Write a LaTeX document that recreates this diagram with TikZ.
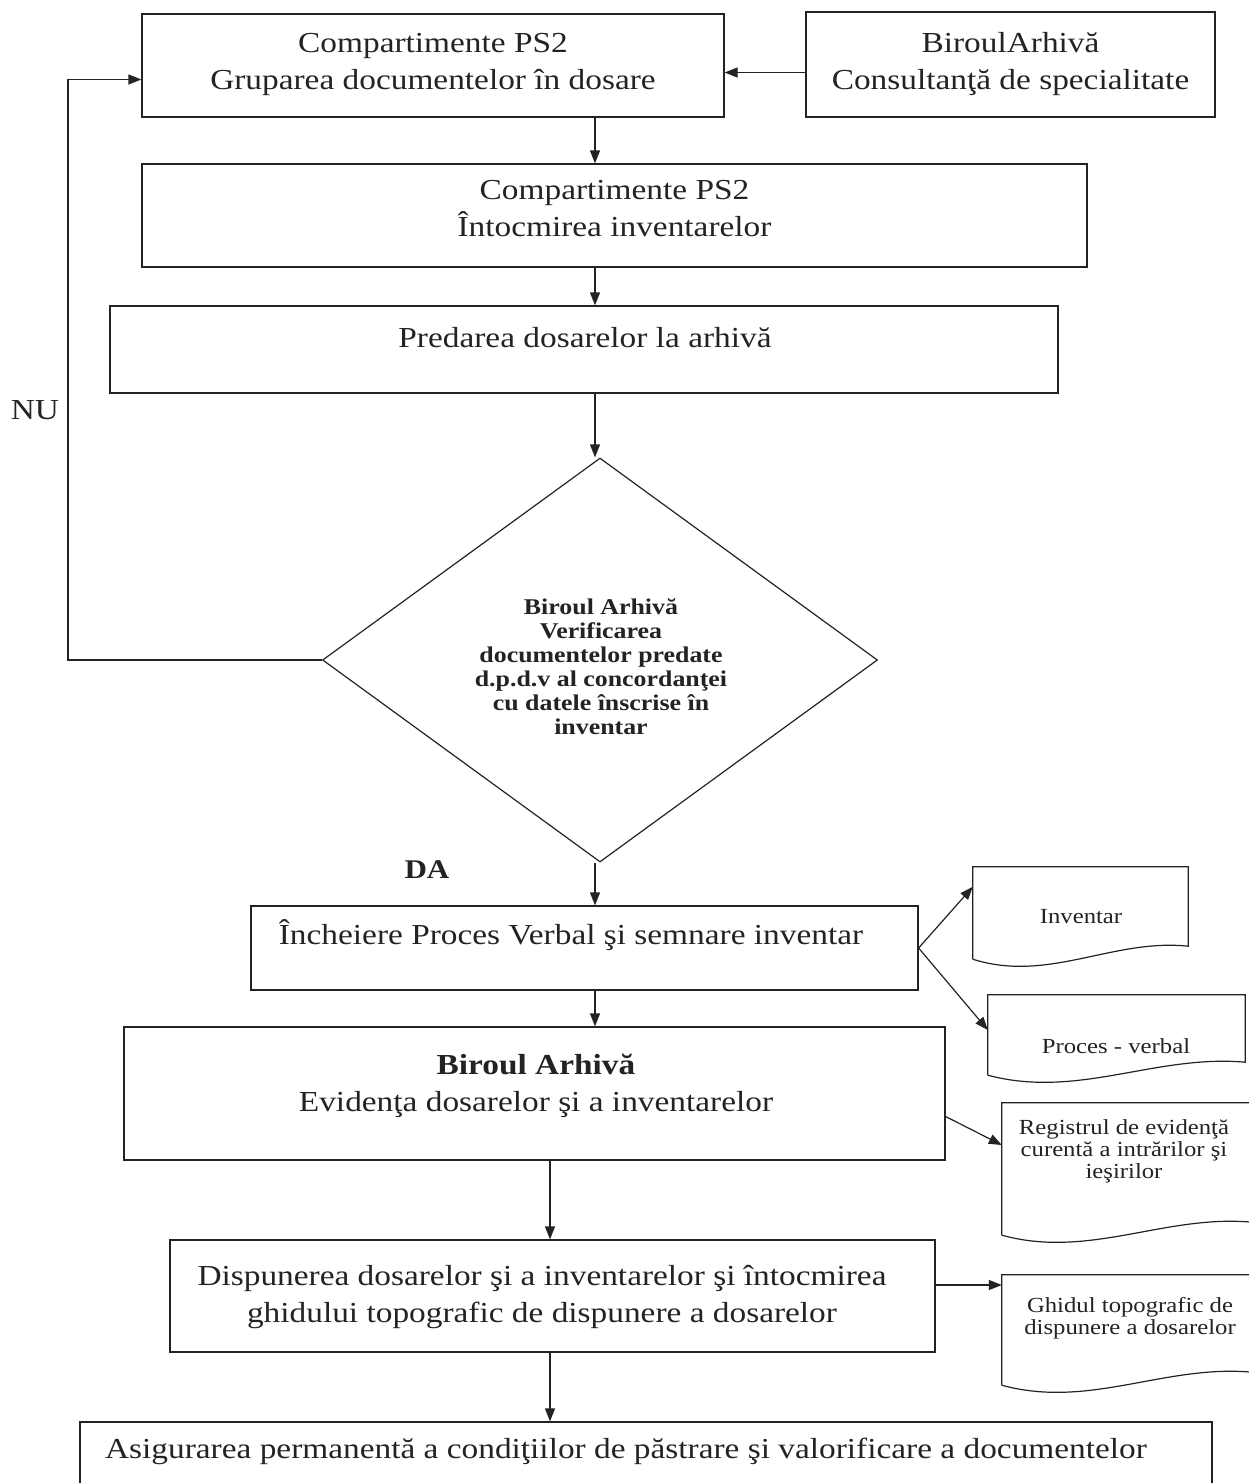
\documentclass[tikz,border=0pt]{standalone}
\usepackage{fontspec}
\setmainfont[FakeStretch=1.15]{Liberation Serif}
\usetikzlibrary{arrows.meta,calc,shapes.geometric}
\definecolor{ink}{RGB}{35,35,35}
\newcommand\mydoc[1]{%
  \draw[boxline] (#1.south west) -- (#1.north west) -- (#1.north east) -- ($(#1.south east)+(0,-13)$)
    .. controls ($(#1.south east)!0.35!(#1.south west)+(0,-21)$) and ($(#1.south east)!0.65!(#1.south west)+(0,24)$) .. (#1.south west);}
\begin{document}
\begin{tikzpicture}[x=1pt,y=-1pt,
  boxline/.style={draw=ink,line width=1.2pt},
  box/.style={boxline,inner sep=0pt,rectangle},
  doc/.style={draw=none,inner sep=0pt,rectangle},
  big/.style={text=ink,font=\fontsize{29}{37}\selectfont,align=center,inner sep=0pt},
  small/.style={text=ink,font=\fontsize{21.5}{22}\selectfont,align=center,inner sep=0pt},
  dtxt/.style={text=ink,font=\bfseries\fontsize{22.5}{24}\selectfont,align=center,inner sep=0pt},
  arr/.style={draw=ink,line width=1.2pt,-{Triangle[length=13pt,width=10pt]}},
  ]
\useasboundingbox (0,0) rectangle (1248,1483);
\fill[white] (0,0) rectangle (1248,1483);
\coordinate (colA) at (595,0);
\coordinate (colB) at (550,0);
\coordinate (nuc) at (68,0);

% boxes
\node[box,minimum width=582pt,minimum height=103pt] (b1) at (433,65.5) {};
\node[big] (t1) at (433,64) {Compartimente PS2\\Gruparea documentelor în dosare};
\node[box,minimum width=409pt,minimum height=105pt] (b2) at (1010.5,64.5) {};
\node[big] (t2) at (1010.5,64) {BiroulArhivă\\Consultanţă de specialitate};
\node[box,minimum width=945pt,minimum height=103pt] (b3) at (614.5,215.5) {};
\node[big] (t3) at (614.5,209) {Compartimente PS2\\Întocmirea inventarelor};
\node[box,minimum width=948pt,minimum height=87pt] (b4) at (584,349.5) {};
\node[big] (t4) at (585,338) {Predarea dosarelor la arhivă};
\node[boxline,diamond,inner sep=0pt,minimum width=555pt,minimum height=404pt] (dia) at (600,660) {};
\node[dtxt] (td) at (601,667) {Biroul Arhivă\\Verificarea\\documentelor predate\\d.p.d.v al concordanţei\\cu datele înscrise în\\inventar};
\node[big] (nu) at (35,410) {NU};
\node[big,font=\bfseries\fontsize{27}{30}\selectfont] (da) at (427,870) {DA};
\node[box,minimum width=667pt,minimum height=84pt] (b5) at (584.5,948) {};
\node[big] (t5) at (571,935) {Încheiere Proces Verbal şi semnare inventar};
\node[box,minimum width=821pt,minimum height=133pt] (b6) at (534.5,1093.5) {};
\node[big] (t6) at (536,1086) {\textbf{Biroul Arhivă}\\Evidenţa dosarelor şi a inventarelor};
\node[box,minimum width=765pt,minimum height=112pt] (b7) at (552.5,1296) {};
\node[big] (t7) at (542,1297) {Dispunerea dosarelor şi a inventarelor şi întocmirea\\ghidului topografic de dispunere a dosarelor};
\node[box,minimum width=1132pt,minimum height=80pt] (b8) at (646,1462) {};
\node[big] (t8) at (626,1451) {Asigurarea permanentă a condiţiilor de păstrare şi valorificare a documentelor};

% documents
\node[doc,minimum width=215pt,minimum height=92pt] (inv) at (1080.5,913) {};
\mydoc{inv}
\node[small] (tinv) at (1081,917) {Inventar};
\node[doc,minimum width=257pt,minimum height=80pt] (pv) at (1116.5,1035) {};
\mydoc{pv}
\node[small] (tpv) at (1116,1046) {Proces - verbal};
\node[doc,minimum width=250pt,minimum height=132pt] (reg) at (1127,1169) {};
\mydoc{reg}
\node[small] (treg) at (1124,1151) {Registrul de evidenţă\\curentă a intrărilor şi\\ieşirilor};
\node[doc,minimum width=250pt,minimum height=110pt] (ghid) at (1127,1330) {};
\mydoc{ghid}
\node[small] (tghid) at (1130,1318) {Ghidul topografic de\\dispunere a dosarelor};

% connectors
\draw[arr] ($(b2.west)+(0,8)$) -- ($(b1.east)+(0,7)$);
\draw[arr] (b1.south -| colA) -- (b3.north -| colA);
\draw[arr] (b3.south -| colA) -- (b4.north -| colA);
\draw[arr] (b4.south -| colA) -- (dia.north -| colA);
\draw[arr] (dia.west) -- (dia.west -| nuc) |- ($(b1.west)+(0,14)$);
\draw[arr] (dia.south -| colA) -- (b5.north -| colA);
\draw[arr] (b5.east) -- ($(inv.north west)+(0,20)$);
\draw[arr] (b5.east) -- ($(pv.west)+(0,-5)$);
\draw[arr] (b5.south -| colA) -- (b6.north -| colA);
\draw[arr] ($(b6.east)+(0,23)$) -- ($(reg.west)+(0,-24)$);
\draw[arr] ($(b7.east)+(0,-11)$) -- ($(ghid.west)+(0,-45)$);
\draw[arr] (b6.south -| colB) -- (b7.north -| colB);
\draw[arr] (b7.south -| colB) -- (b8.north -| colB);
\end{tikzpicture}
\end{document}
